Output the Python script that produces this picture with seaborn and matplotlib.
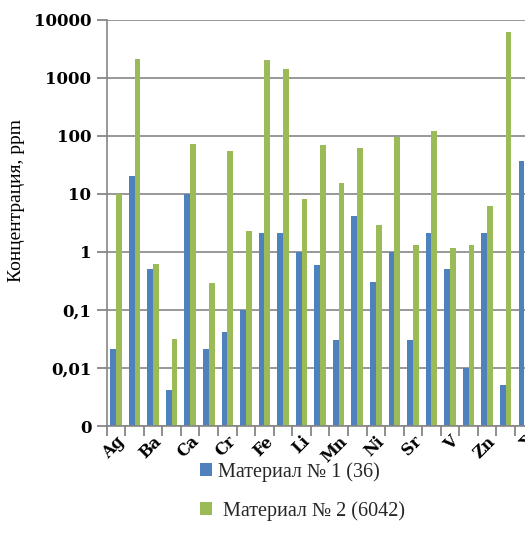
import matplotlib
matplotlib.use("Agg")
import matplotlib.pyplot as plt
import matplotlib.ticker as mticker
from matplotlib.patches import Patch
import numpy as np
import pandas as pd
import seaborn as sns

elements = ["Ag", "Al", "Ba", "Be", "Ca", "Cd", "Cr", "Cu", "Fe", "K", "Li", "Mg",
            "Mn", "Na", "Ni", "Pb", "Sr", "Ti", "V", "W", "Zn", "Zr", "Σ"]
mat1 = [0.021, 20, 0.51, 0.0041, 10, 0.021, 0.042, 0.1, 2.07, 2.07, 1.0, 0.6,
        0.030, 4.2, 0.30, 1.0, 0.030, 2.07, 0.51, 0.01, 2.07, 0.005, 36]
mat2 = [10, 2070, 0.61, 0.032, 72, 0.29, 54, 2.27, 2018, 1413, 8.1, 69,
        15.3, 62, 2.9, 93, 1.32, 120, 1.14, 1.32, 6.2, 6125, np.nan]
series_names = ["Материал № 1 (36)", "Материал № 2 (6042)"]
ytick_vals = [0.001, 0.01, 0.1, 1, 10, 100, 1000, 10000]
ytick_labels = ["0", "0,01", "0,1", "1", "10", "100", "1000", "10000"]

df = pd.DataFrame({
    "el": elements * 2,
    "val": mat1 + mat2,
    "ser": [series_names[0]] * len(elements) + [series_names[1]] * len(elements),
})

colors = ["#4F81BD", "#9BBB59"]
axis_grey = "#868686"
sns.set_theme(style="white")

fig = plt.figure(figsize=(5.25, 5.48), dpi=100)
ax = fig.add_axes([106.7 / 525, 1 - 426 / 548, 1 - 106.7 / 525, (426 - 19.5) / 548])
ax.set_yscale("log")
sns.barplot(data=df, x="el", y="val", hue="ser", palette=colors, width=0.62,
            gap=0, saturation=1, ax=ax, legend=False, linewidth=0)

ax.set_ylim(0.001, 10000)
ax.set_xlim(-0.5, 22.04)
ax.set_yticks(ytick_vals)
ax.yaxis.set_major_formatter(mticker.FixedFormatter(ytick_labels))
ax.yaxis.set_minor_locator(mticker.NullLocator())
ax.grid(axis="y", color=axis_grey, linewidth=1.2)
ax.grid(axis="x", visible=False)
ax.set_axisbelow(True)
for s in ["top", "right"]:
    ax.spines[s].set_visible(False)
for s in ["left", "bottom"]:
    ax.spines[s].set_color(axis_grey)
    ax.spines[s].set_linewidth(1.2)

for lab in ax.get_yticklabels():
    lab.set_fontfamily("DejaVu Serif")
    lab.set_fontweight("bold")
    lab.set_fontsize(12)
ax.tick_params(axis="y", which="major", length=7, width=1.3, color=axis_grey,
               left=True, pad=4, labelcolor="black", direction="out")

# x: labels at every other category centre (major, no mark);
# tick marks at category boundaries (minor)
idx = list(range(0, len(elements), 2))
ax.xaxis.set_major_locator(mticker.FixedLocator(idx))
ax.xaxis.set_major_formatter(mticker.FixedFormatter([elements[i] for i in idx]))
ax.xaxis.set_minor_locator(mticker.FixedLocator(np.arange(-0.5, len(elements), 1)))
ax.xaxis.remove_overlapping_locs = False
ax.tick_params(axis="x", which="major", length=0, pad=5, labelcolor="black",
               bottom=True, labelbottom=True)
ax.tick_params(axis="x", which="minor", length=7, width=1.3, color=axis_grey,
               bottom=True, direction="out")
for lab in ax.xaxis.get_majorticklabels():
    lab.set_rotation(45)
    lab.set_ha("right")
    lab.set_rotation_mode("anchor")
    lab.set_fontfamily("DejaVu Serif")
    lab.set_fontweight("bold")
    lab.set_fontsize(11.5)
ax.set_xlabel("")
ax.set_ylabel("")

fig.text(17 / 525, 1 - 200 / 548, "Концентрация, ppm", rotation=90,
         ha="center", va="center", fontfamily="Liberation Serif", fontsize=14,
         color="black")

handles = [Patch(facecolor=colors[0], edgecolor="none"),
           Patch(facecolor=colors[1], edgecolor="none")]
fig.legend(handles, [series_names[0], " " + series_names[1]],
           loc="upper left", bbox_to_anchor=(192 / 525, 1 - 454 / 548),
           frameon=False, prop={"family": "Liberation Serif", "size": 14.5},
           handlelength=0.6, handleheight=0.6, handletextpad=0.3,
           labelspacing=0.95, borderaxespad=0)

fig.savefig("out.png", dpi=100)
